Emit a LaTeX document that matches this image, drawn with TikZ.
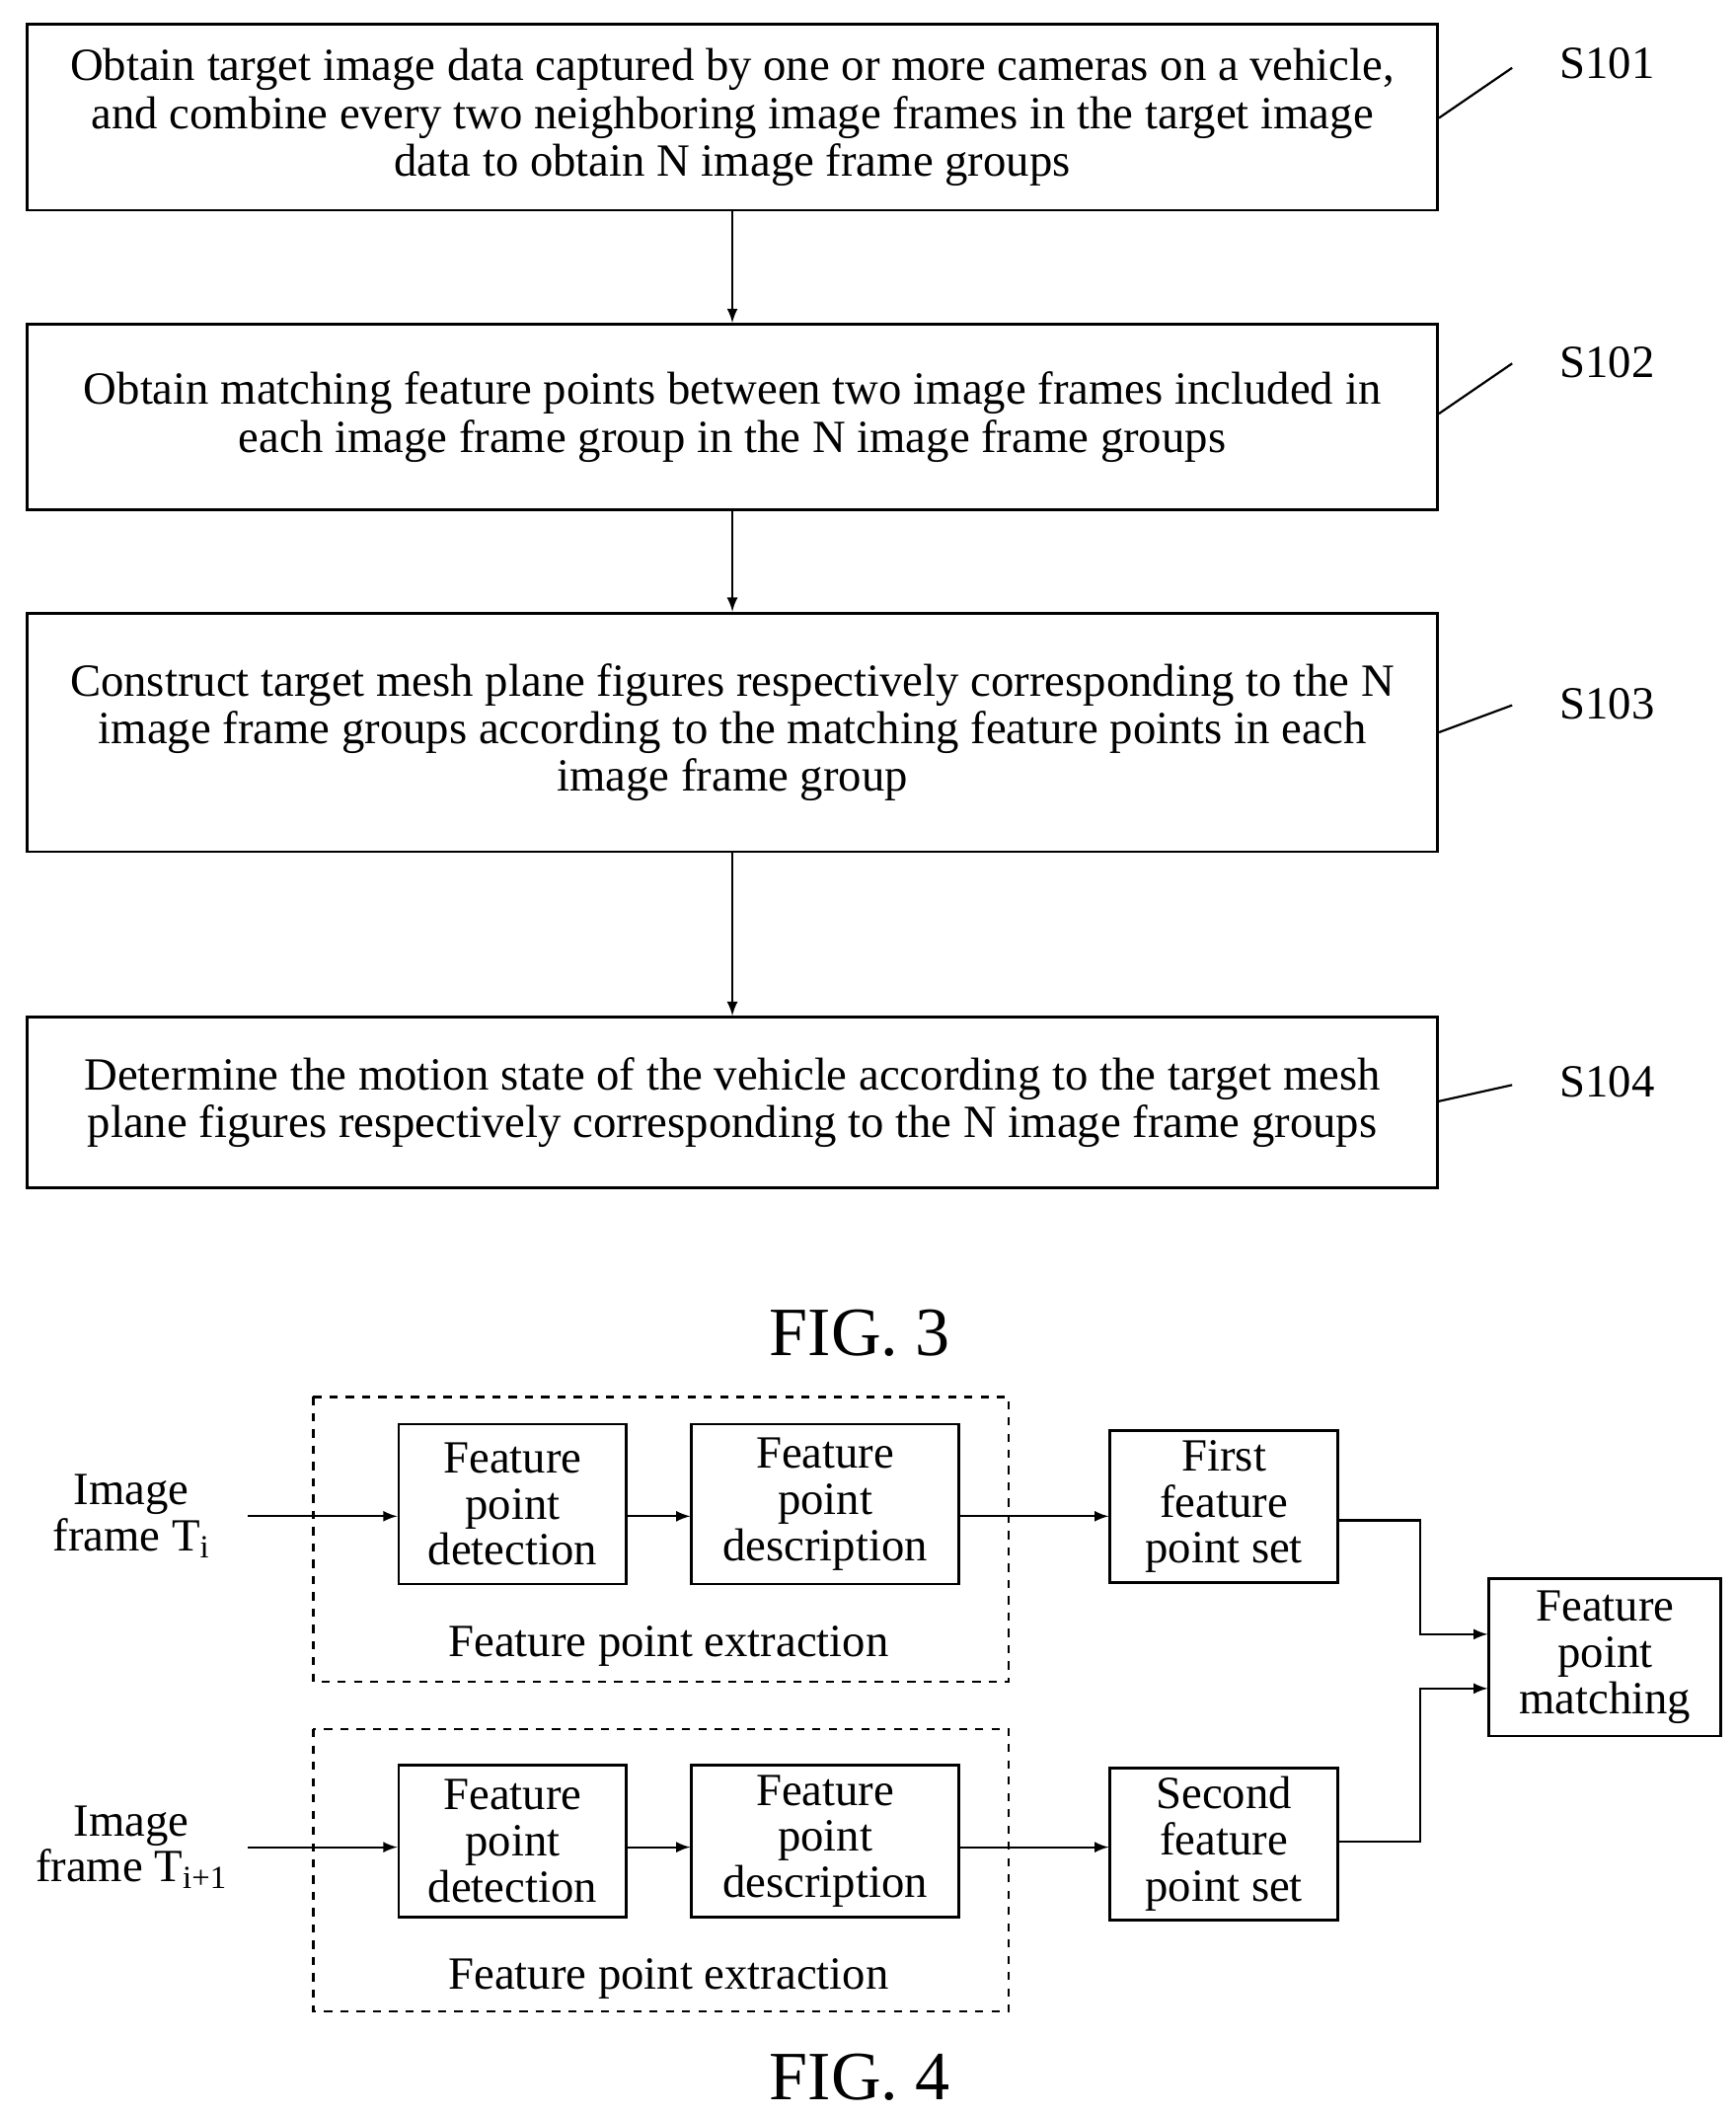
\documentclass[tikz,border=0pt]{standalone}
\usepackage{fontspec}
\setmainfont{Liberation Serif}
\begin{document}
\begin{tikzpicture}[x=0.5pt,y=-0.5pt,
 box/.style={draw,line width=1pt,align=center,font=\fontsize{17}{17.5}\selectfont},
 sm/.style={draw,line width=1pt,align=center,font=\fontsize{17}{17}\selectfont},
 lbl/.style={font=\fontsize{17}{17}\selectfont},
 dbox/.style={draw,dashed,line width=0.8pt},
 arr/.style={-latex,line width=0.8pt},
 lead/.style={line width=0.8pt}]
\useasboundingbox (0,0) rectangle (1280,1559.5);
% FIG 3
\node[box,minimum width=520pt,minimum height=68.5pt] (s1) at (540,86.5) {Obtain target image data captured by one or more cameras on a vehicle,\\and combine every two neighboring image frames in the target image\\data to obtain N image frame groups};
\node[box,minimum width=520pt,minimum height=68.5pt] (s2) at (540,307.5) {Obtain matching feature points between two image frames included in\\each image frame group in the N image frame groups};
\node[box,minimum width=520pt,minimum height=88pt] (s3) at (540,540) {Construct target mesh plane figures respectively corresponding to the N\\image frame groups according to the matching feature points in each\\image frame group};
\node[box,minimum width=520pt,minimum height=63pt] (s4) at (540,813) {Determine the motion state of the vehicle according to the target mesh\\plane figures respectively corresponding to the N image frame groups};
\draw[arr] (s1) -- (s2);
\draw[arr] (s2) -- (s3);
\draw[arr] (s3) -- (s4);
\node[lbl] (l1) at (1185,47) {S101};
\node[lbl] (l2) at (1185,267) {S102};
\node[lbl] (l3) at (1185,519) {S103};
\node[lbl] (l4) at (1185,798) {S104};
\coordinate (c1) at (1115,50); \coordinate (c2) at (1115,268);
\coordinate (c3) at (1115,520); \coordinate (c4) at (1115,800);
\draw[lead] (s1.east |- 0,87) -- (c1);
\draw[lead] (s2.east |- 0,305) -- (c2);
\draw[lead] (s3.east |- 0,540) -- (c3);
\draw[lead] (s4.east |- 0,812) -- (c4);
\node[font=\fontsize{25.5}{30}\selectfont] (f3) at (634,983) {FIG. 3};
% FIG 4
\draw[dbox] (231,1030) rectangle (744,1240);
\draw[dbox] (231,1275) rectangle (744,1483);
\node[lbl] (e1) at (493,1214) {Feature point extraction};
\node[lbl] (e2) at (493,1459) {Feature point extraction};
\node[lbl,align=center] (i1) at (97,1118) {Image\\frame T\textsubscript{i}};
\node[lbl,align=center] (i2) at (97,1362) {Image\\frame T\textsubscript{i+1}};
\node[sm,minimum width=84pt,minimum height=59pt] (d1) at (378,1109) {Feature\\point\\detection};
\node[sm,minimum width=98.5pt,minimum height=59pt] (p1) at (608.5,1109) {Feature\\point\\description};
\node[sm,minimum width=84pt,minimum height=56pt] (f1) at (902.5,1111) {First\\feature\\point set};
\node[sm,minimum width=84pt,minimum height=56pt] (d2) at (378,1357.5) {Feature\\point\\detection};
\node[sm,minimum width=98.5pt,minimum height=56pt] (p2) at (608.5,1357.5) {Feature\\point\\description};
\node[sm,minimum width=84pt,minimum height=54pt] (f2) at (902.5,1359.5) {Second\\feature\\point set};
\node[sm,minimum width=85.5pt,minimum height=58pt] (m) at (1183.5,1222) {Feature\\point\\matching};
\coordinate (a1) at (183,1118); \coordinate (a2) at (183,1362);
\draw[arr] (a1) -- (d1.west |- a1);
\draw[arr] (a2) -- (d2.west |- a2);
\draw[arr] (d1.east |- 0,1118) -- (p1.west |- 0,1118);
\draw[arr] (d2.east |- 0,1362) -- (p2.west |- 0,1362);
\draw[arr] (p1.east |- 0,1118) -- (f1.west |- 0,1118);
\draw[arr] (p2.east |- 0,1362) -- (f2.west |- 0,1362);
\draw[arr] (f1.east |- 0,1121) -- (1047,1121) -- (1047,1205) -- (m.west |- 0,1205);
\draw[arr] (f2.east |- 0,1358) -- (1047,1358) -- (1047,1245) -- (m.west |- 0,1245);
\node[font=\fontsize{25.5}{30}\selectfont] (f4) at (634,1532) {FIG. 4};
\end{tikzpicture}
\end{document}
